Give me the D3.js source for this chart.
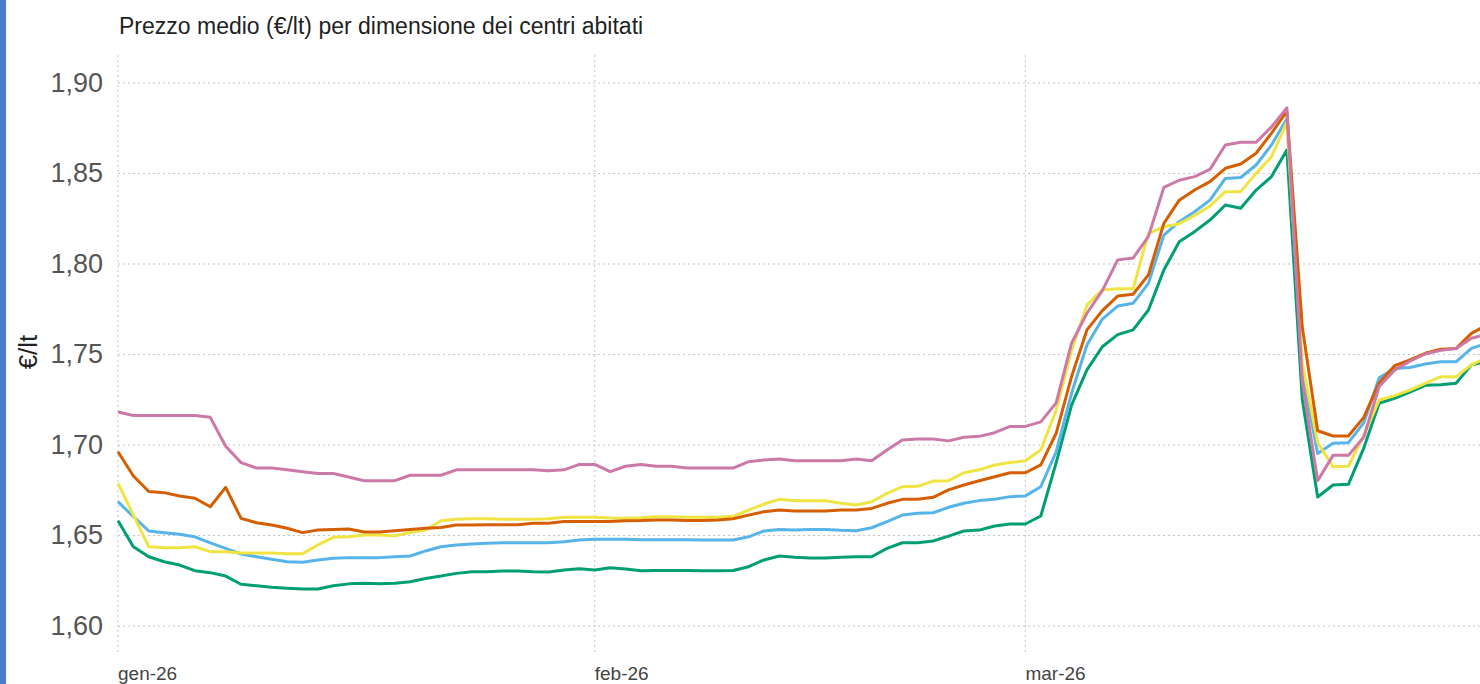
<!DOCTYPE html>
<html>
<head>
<meta charset="utf-8">
<script src="https://cdnjs.cloudflare.com/ajax/libs/d3/7.8.5/d3.min.js"></script>
<style>
  html, body { margin: 0; padding: 0; background: #fff; overflow: hidden; }
  svg { display: block; }
</style>
</head>
<body>
<div id="chart"></div>
<script>
// daily values, 1 Jan 2026 -> 31 Mar 2026
var startDate = new Date(Date.UTC(2026, 0, 1));
var endDate = new Date(Date.UTC(2026, 2, 31));

var pink = [1.718, 1.716, 1.716, 1.716, 1.716, 1.716, 1.715, 1.699, 1.690, 1.687,
    1.687, 1.686, 1.685, 1.684, 1.684, 1.682, 1.680, 1.680, 1.680, 1.683,
    1.683, 1.683, 1.686, 1.686, 1.686, 1.686, 1.686, 1.686, 1.6855, 1.686,
    1.689, 1.689, 1.685, 1.688, 1.689, 1.688, 1.688, 1.687, 1.687, 1.687,
    1.687, 1.6905, 1.6915, 1.692, 1.691, 1.691, 1.691, 1.691, 1.692, 1.691,
    1.697, 1.7025, 1.703, 1.703, 1.702, 1.704, 1.7045, 1.7065, 1.710, 1.710,
    1.7125, 1.723, 1.756, 1.7725, 1.785, 1.802, 1.803, 1.815, 1.842, 1.846,
    1.848, 1.852, 1.8655, 1.867, 1.867, 1.8755, 1.886, 1.735, 1.680, 1.694,
    1.694, 1.704, 1.732, 1.741, 1.746, 1.750, 1.752, 1.753, 1.7587, 1.761];

var orange = [1.696, 1.6826, 1.674, 1.6734, 1.6715, 1.6703, 1.6656, 1.6763, 1.6592, 1.6568,
    1.6555, 1.6537, 1.6513, 1.6528, 1.6531, 1.6533, 1.6517, 1.6517, 1.6524, 1.6531,
    1.6537, 1.6542, 1.6555, 1.6555, 1.6556, 1.6556, 1.6557, 1.6565, 1.6565, 1.6574,
    1.6574, 1.6574, 1.6574, 1.6579, 1.658, 1.6583, 1.6583, 1.658, 1.658, 1.6583,
    1.659, 1.661, 1.6629, 1.6638, 1.6633, 1.6633, 1.6633, 1.6638, 1.6638, 1.6647,
    1.6675, 1.6697, 1.6698, 1.6708, 1.6749, 1.6776, 1.680, 1.6822, 1.6844, 1.6844,
    1.6887, 1.7062, 1.7375, 1.7633, 1.774, 1.782, 1.783, 1.7937, 1.8222, 1.835,
    1.8406, 1.8452, 1.8526, 1.855, 1.8609, 1.872, 1.884, 1.765, 1.7076, 1.7047,
    1.7047, 1.715, 1.734, 1.7435, 1.7467, 1.7504, 1.7526, 1.753, 1.7614, 1.766];

var yellow = [1.6786, 1.661, 1.6435, 1.643, 1.643, 1.6435, 1.6408, 1.6408, 1.640, 1.640,
    1.640, 1.6397, 1.6397, 1.6445, 1.6487, 1.649, 1.650, 1.650, 1.6495, 1.6513,
    1.6528, 1.6579, 1.6587, 1.659, 1.659, 1.6587, 1.6587, 1.6587, 1.659, 1.6598,
    1.6598, 1.6598, 1.6594, 1.6592, 1.6595, 1.6601, 1.6601, 1.6598, 1.6598, 1.6598,
    1.6603, 1.6638, 1.6671, 1.6697, 1.6689, 1.6689, 1.6689, 1.6675, 1.6666, 1.6684,
    1.673, 1.6767, 1.6769, 1.6798, 1.680, 1.6844, 1.686, 1.6887, 1.690, 1.691,
    1.697, 1.719, 1.752, 1.777, 1.7854, 1.786, 1.786, 1.8167, 1.8203, 1.822,
    1.8265, 1.8318, 1.8397, 1.8397, 1.8498, 1.859, 1.878, 1.745, 1.701, 1.6877,
    1.688, 1.705, 1.7246, 1.727, 1.730, 1.7338, 1.7375, 1.7375, 1.744, 1.748];

var blue = [1.6684, 1.6601, 1.6522, 1.6513, 1.6504, 1.649, 1.6457, 1.6426, 1.6395, 1.638,
    1.6366, 1.6352, 1.6349, 1.6362, 1.6371, 1.6375, 1.6375, 1.6375, 1.638, 1.6384,
    1.6412, 1.6435, 1.6445, 1.645, 1.6455, 1.6457, 1.6457, 1.6457, 1.6457, 1.6463,
    1.6472, 1.6476, 1.6476, 1.6477, 1.6474, 1.6474, 1.6474, 1.6474, 1.6473, 1.6473,
    1.6472, 1.649, 1.6522, 1.6531, 1.6528, 1.6531, 1.6531, 1.6526, 1.6524, 1.654,
    1.6574, 1.661, 1.662, 1.6623, 1.6653, 1.6675, 1.669, 1.6697, 1.6712, 1.6716,
    1.6767, 1.696, 1.7283, 1.755, 1.7693, 1.7765, 1.778, 1.789, 1.8157, 1.8231,
    1.8286, 1.835, 1.847, 1.8475, 1.8544, 1.8655, 1.880, 1.740, 1.695, 1.7007,
    1.701, 1.712, 1.7368, 1.742, 1.7425, 1.7445, 1.7457, 1.7457, 1.7531, 1.756];

var green = [1.6579, 1.6435, 1.638, 1.6352, 1.6334, 1.6303, 1.6292, 1.6273, 1.6228, 1.622,
    1.6211, 1.6206, 1.6202, 1.6202, 1.622, 1.623, 1.6233, 1.6231, 1.6233, 1.6242,
    1.626, 1.6273, 1.6288, 1.6297, 1.6297, 1.6301, 1.6301, 1.6297, 1.6296, 1.6307,
    1.6314, 1.6307, 1.6319, 1.6312, 1.6303, 1.6304, 1.6304, 1.6304, 1.6303, 1.6303,
    1.6304, 1.6325, 1.6362, 1.6384, 1.6377, 1.6373, 1.6373, 1.6377, 1.638, 1.638,
    1.6426, 1.6457, 1.6457, 1.6467, 1.6494, 1.6522, 1.6527, 1.655, 1.6561, 1.6561,
    1.6605, 1.690, 1.7218, 1.7412, 1.754, 1.7607, 1.7633, 1.7743, 1.7964, 1.812,
    1.8176, 1.824, 1.8323, 1.8305, 1.8406, 1.848, 1.8627, 1.725, 1.671, 1.6776,
    1.678, 1.698, 1.7228, 1.7255, 1.729, 1.7327, 1.733, 1.7338, 1.744, 1.746];

var seriesColors = ["#009e73", "#56b4e9", "#f0e442", "#d55e00", "#cc79a7"];
var yTicks = [1.60, 1.65, 1.70, 1.75, 1.80, 1.85, 1.90];
var monthTicks = [new Date(Date.UTC(2026, 0, 1)), new Date(Date.UTC(2026, 1, 1)), new Date(Date.UTC(2026, 2, 1))];
var monthLabels = ["gen-26", "feb-26", "mar-26"];

var W = 1480, H = 684;
var dates = d3.utcDays(startDate, d3.utcDay.offset(endDate, 1));
var allSeries = [green, blue, yellow, orange, pink];

var svg = d3.select("#chart")
    .append("svg")
    .attr("width", W)
    .attr("height", H);

// blue strip on the left border
svg.append("rect")
    .attr("x", 0).attr("y", 0)
    .attr("width", 6).attr("height", H)
    .attr("fill", "#4a7ccf");

var x = d3.scaleUtc()
    .domain([startDate, endDate])
    .range([118, 118 + 89 * 15.38]);

var y = d3.scaleLinear()
    .domain([1.60, 1.90])
    .range([625.5, 82.5]);

// horizontal grid + y labels
svg.append("g")
    .attr("transform", "translate(118,0)")
    .call(d3.axisLeft(y).tickValues(yTicks).tickSize(-(W - 118)).tickPadding(15)
        .tickFormat(function (d) { return d3.format(".2f")(d).replace(".", ","); }))
    .call(function (g) {
        g.select(".domain").remove();
        g.selectAll(".tick line")
            .attr("stroke", "#c4c4c4")
            .attr("stroke-dasharray", "2,3");
        g.selectAll(".tick text")
            .attr("fill", "#555")
            .attr("font-size", "27px")
            .attr("font-family", "Liberation Sans, Arial, sans-serif");
    });

// vertical grid at month starts
svg.append("g")
    .selectAll("line")
    .data(monthTicks)
    .enter()
    .append("line")
    .attr("x1", function (d) { return x(d); })
    .attr("x2", function (d) { return x(d); })
    .attr("y1", 55)
    .attr("y2", 652)
    .attr("stroke", "#c4c4c4")
    .attr("stroke-dasharray", "2,3");

svg.append("g")
    .selectAll("text")
    .data(monthTicks)
    .enter()
    .append("text")
    .attr("x", function (d) { return x(d); })
    .attr("y", 680)
    .attr("fill", "#444")
    .attr("font-size", "19px")
    .attr("font-family", "Liberation Sans, Arial, sans-serif")
    .text(function (d, i) { return monthLabels[i]; });

var line = d3.line()
    .x(function (d, i) { return x(dates[i]); })
    .y(function (d) { return y(d); });

svg.append("g")
    .selectAll("path")
    .data(allSeries)
    .enter()
    .append("path")
    .attr("d", line)
    .attr("fill", "none")
    .attr("stroke", function (d, i) { return seriesColors[i]; })
    .attr("stroke-width", 3)
    .attr("stroke-linejoin", "round");

// title and y label
svg.append("text")
    .attr("x", 119)
    .attr("y", 34)
    .attr("fill", "#222")
    .attr("font-size", "23px")
    .attr("font-family", "Liberation Sans, Arial, sans-serif")
    .text("Prezzo medio (€/lt) per dimensione dei centri abitati");

svg.append("text")
    .attr("transform", "translate(37,352) rotate(-90)")
    .attr("text-anchor", "middle")
    .attr("fill", "#222")
    .attr("font-size", "26px")
    .attr("font-family", "Liberation Sans, Arial, sans-serif")
    .text("€/lt");
</script>
</body>
</html>
